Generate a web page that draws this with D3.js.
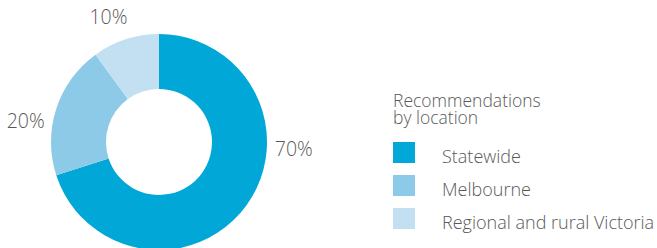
<!DOCTYPE html>
<html>
<head>
<meta charset="utf-8">
<script src="https://cdn.jsdelivr.net/npm/d3@7"></script>
<style>
  body { margin: 0; background: #fff; }
  svg text { font-family: "Open Sans", Roboto, sans-serif; font-weight: 300; fill: #595959; }
</style>
</head>
<body>
<div id="chart"></div>
<script>
// data
const categories = ['Statewide', 'Melbourne', 'Regional and rural Victoria'];
const values = [70, 20, 10];
const colours = ['#00a7d7', '#8dcae8', '#c3e0f2'];
const legendTitle = ['Recommendations', 'by location'];

const width = 657, height = 248;
const cx = 159, cy = 142,
    outerR = 108, innerR = 53;
// label placement (degrees clockwise from top), best-fit like the original
const labelAngles = [93, 279, 338];
const labelR = 135;

let svg = d3.select('#chart')
    .append('svg')
    .attr('width', width)
    .attr('height', height);

let pie = d3.pie().sort(null).value(d => d.value);
let arcs = pie(categories.map((c, i) => ({ name: c, value: values[i] })));

let arc = d3.arc().innerRadius(innerR).outerRadius(outerR);
let colour = d3.scaleOrdinal().domain(categories).range(colours);

let g = svg.append('g').attr('transform', `translate(${cx},${cy})`);

g.selectAll('path')
    .data(arcs).enter()
    .append('path')
    .attr('d', arc)
    .attr('fill', d => colour(d.data.name));

// percentage labels outside the ring
g.selectAll('text.pct')
    .data(arcs).enter()
    .append('text')
    .attr('class', 'pct')
    .attr('transform', (d, i) => {
        let a = labelAngles[i] * Math.PI / 180;
        return `translate(${labelR * Math.sin(a)},${-labelR * Math.cos(a)})`;
    })
    .attr('text-anchor', 'middle')
    .attr('dy', '0.35em')
    .style('font-size', '19.5px')
    .text(d => d.data.value + '%');

// legend
let legend = svg.append('g').attr('transform', 'translate(393,0)');

// two lines of title, as separate texts
legend.selectAll('text.title')
    .data(legendTitle).enter()
    .append('text')
    .attr('class', 'title')
    .attr('y', (d, i) => 107 + i * 17)
    .style('font-size', '17.5px')
    .text(d => d);

let ly = d3.scaleBand().domain(categories).range([142, 241]);

let items = legend.selectAll('g.item')
    .data(categories).enter()
    .append('g')
    .attr('class', 'item')
    .attr('transform', d => `translate(0,${ly(d)})`);

items.append('rect')
    .attr('width', 22)
    .attr('height', 21)
    .attr('fill', d => colour(d));

items.append('text')
    .attr('x', 49)
    .attr('y', 21)
    .style('font-size', '18px')
    .text(d => d);
</script>
</body>
</html>
